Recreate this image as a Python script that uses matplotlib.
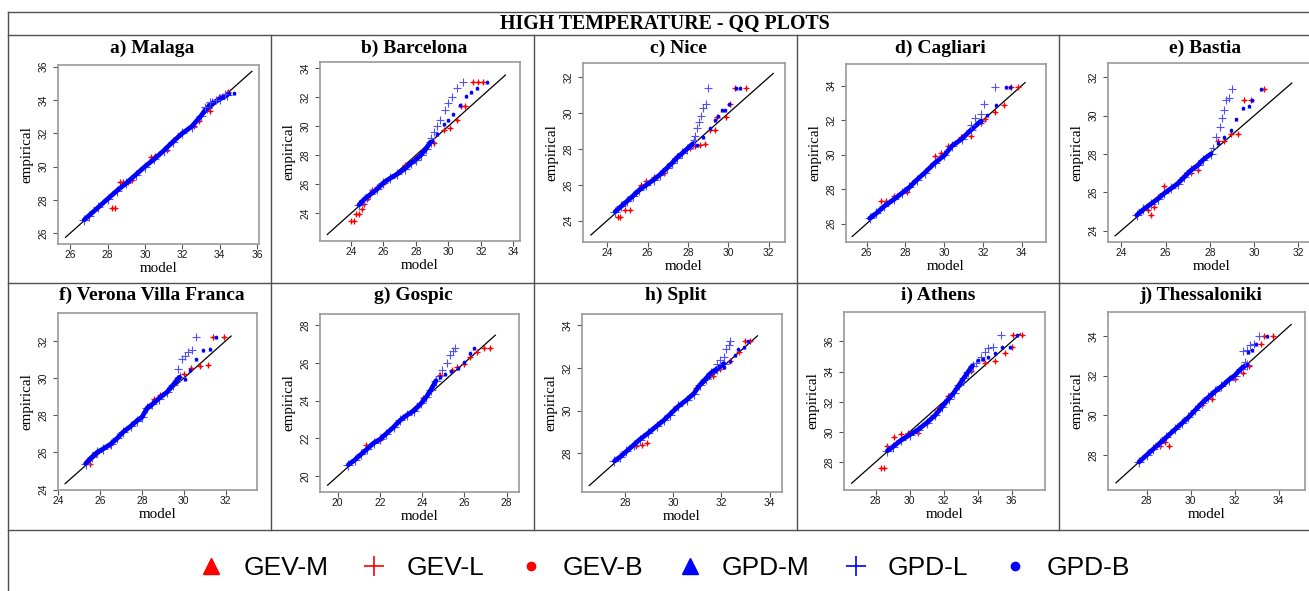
import matplotlib
matplotlib.use("Agg")
import matplotlib.pyplot as plt
from matplotlib.lines import Line2D

# ---------------- data ----------------
TITLE = "HIGH TEMPERATURE - QQ PLOTS"
PANEL_TITLES = ["a) Malaga", "b) Barcelona", "c) Nice", "d) Cagliari", "e) Bastia",
                "f) Verona Villa Franca", "g) Gospic", "h) Split", "i) Athens", "j) Thessaloniki"]
XLABEL = "model"
YLABEL = "empirical"
LEGEND_LABELS = ["GEV-M", "GEV-L", "GEV-B", "GPD-M", "GPD-L", "GPD-B"]

# axis limits, reference-line ranges and ticks per panel
LIM_A = [25.35, 36.1];  LINE_A = [25.75, 35.72]; TICKS_A = [26, 28, 30, 32, 34, 36]
LIM_B = [22.1, 34.4];   LINE_B = [22.55, 33.5];  TICKS_B = [24, 26, 28, 30, 32, 34]
LIM_C = [22.81, 32.8];  LINE_C = [23.2, 32.22];  TICKS_C = [24, 26, 28, 30, 32]
LIM_D = [24.93, 35.25]; LINE_D = [25.25, 34.17]; TICKS_D = [26, 28, 30, 32, 34]
LIM_E = [23.4, 32.75];  LINE_E = [23.72, 31.7];  TICKS_E = [24, 26, 28, 30, 32]
LIM_F = [23.98, 33.5];  LINE_F = [24.32, 32.26]; TICKS_F = [24, 26, 28, 30, 32]
LIM_G = [19.16, 28.58]; LINE_G = [19.52, 27.46]; TICKS_G = [20, 22, 24, 26, 28]
LIM_H = [26.2, 34.52];  LINE_H = [26.5, 33.5];   TICKS_H = [28, 30, 32, 34]
LIM_I = [26.15, 37.95]; LINE_I = [26.6, 36.5];   TICKS_I = [28, 30, 32, 34, 36]
LIM_J = [26.24, 35.2];  LINE_J = [26.6, 34.57];  TICKS_J = [28, 30, 32, 34]

# a) Malaga
BODY_A_X = [26.75, 27.0, 27.5, 28.0, 28.5, 29.0, 29.5, 30.0, 30.5, 31.0, 31.5, 32.0, 32.5, 33.0, 33.3, 33.6, 34.0, 34.4]
BODY_A_Y = [26.8, 27.05, 27.55, 28.05, 28.55, 29.0, 29.5, 30.0, 30.45, 30.95, 31.5, 32.0, 32.4, 33.05, 33.5, 33.8, 34.05, 34.3]
GPDL_A_X = [33.2, 33.5, 33.8, 34.3]
GPDL_A_Y = [33.6, 33.85, 34.0, 34.35]
GPDB_A_X = [34.5, 34.75]
GPDB_A_Y = [34.4, 34.4]
GEV_A_X = [28.25, 28.4, 28.65, 28.85, 29.1, 29.3, 30.35, 30.55, 31.2, 31.5, 32.6, 32.9, 33.5, 33.95, 34.15, 34.45]
GEV_A_Y = [27.5, 27.5, 29.05, 29.05, 29.05, 29.2, 30.6, 30.65, 31.0, 31.45, 32.45, 32.75, 33.35, 34.2, 34.25, 34.45]

# b) Barcelona
BODY_B_X = [24.5, 24.8, 25.2, 25.6, 26.0, 26.4, 26.85, 27.3, 27.7, 28.0, 28.3, 28.6, 28.9]
BODY_B_Y = [24.58, 24.95, 25.3, 25.65, 26.1, 26.4, 26.7, 27.05, 27.45, 27.7, 28.0, 28.4, 28.9]
GPDL_B_X = [28.9, 29.1, 29.3, 29.5, 29.8, 30.0, 30.2, 30.5, 30.9]
GPDL_B_Y = [29.2, 29.6, 30.0, 30.4, 31.1, 31.6, 32.0, 32.6, 33.0]
GPDB_B_X = [29.0, 29.3, 29.7, 30.0, 30.3, 30.7, 31.1, 31.4, 31.75, 32.35]
GPDB_B_Y = [28.95, 29.45, 30.15, 30.4, 30.85, 31.45, 32.05, 32.35, 32.6, 33.0]
GEV_B_X = [24.0, 24.2, 24.3, 24.5, 24.7, 24.8, 25.0, 25.3, 25.6, 26.0, 27.3, 28.0, 29.1, 29.7, 30.1, 30.5, 30.8, 31.0, 31.5, 31.8, 32.1]
GEV_B_Y = [23.47, 23.47, 23.98, 23.98, 24.28, 24.63, 24.97, 25.6, 25.8, 26.0, 27.3, 27.85, 28.8, 29.7, 29.85, 30.4, 31.4, 31.4, 33.0, 33.0, 33.0]

# c) Nice
BODY_C_X = [24.4, 24.7, 25.0, 25.3, 25.6, 25.95, 26.3, 26.6, 26.95, 27.2, 27.45, 27.7, 27.95, 28.25]
BODY_C_Y = [24.5, 24.8, 25.1, 25.4, 25.72, 26.0, 26.28, 26.55, 26.93, 27.2, 27.5, 27.75, 28.0, 28.3]
GPDL_C_X = [28.3, 28.35, 28.45, 28.55, 28.65, 28.75, 28.9, 29.0]
GPDL_C_Y = [28.5, 28.75, 29.2, 29.5, 29.85, 30.3, 30.5, 31.4]
GPDB_C_X = [28.45, 28.75, 29.1, 29.35, 29.5, 29.7, 29.85, 30.05, 30.4, 30.55]
GPDB_C_Y = [28.25, 28.65, 29.15, 29.6, 29.85, 30.2, 30.2, 30.5, 31.4, 31.4]
GEV_C_X = [24.55, 24.65, 24.9, 25.15, 25.7, 25.95, 26.3, 26.8, 27.45, 28.1, 28.35, 28.6, 28.85, 29.1, 29.35, 29.45, 29.9, 30.1, 30.35, 30.85]
GEV_C_Y = [24.2, 24.2, 24.6, 24.6, 26.0, 26.2, 26.45, 26.65, 27.6, 28.05, 28.15, 28.25, 28.3, 29.05, 29.05, 29.8, 29.8, 30.5, 31.4, 31.4]

# d) Cagliari
BODY_D_X = [26.15, 26.5, 26.9, 27.4, 27.8, 28.2, 28.6, 29.0, 29.5, 30.0, 30.4, 30.9, 31.4, 31.9]
BODY_D_Y = [26.3, 26.6, 27.0, 27.4, 27.75, 28.1, 28.55, 28.95, 29.5, 29.95, 30.5, 30.9, 31.45, 31.95]
GPDL_D_X = [31.4, 31.6, 31.9, 32.05, 32.6]
GPDL_D_Y = [31.7, 32.1, 32.35, 32.95, 33.9]
GPDB_D_X = [31.9, 32.2, 32.65, 33.2, 33.4]
GPDB_D_Y = [31.95, 32.3, 32.85, 33.9, 33.9]
GEV_D_X = [26.75, 27.0, 27.4, 28.1, 28.35, 29.5, 29.85, 30.2, 30.85, 31.4, 31.9, 32.1, 32.6, 33.1, 33.45, 33.8]
GEV_D_Y = [27.3, 27.3, 27.6, 27.8, 28.35, 29.9, 30.1, 30.5, 31.0, 31.1, 31.85, 32.05, 32.45, 32.85, 33.9, 33.9]

# e) Bastia
BODY_E_X = [24.7, 25.0, 25.35, 25.65, 25.95, 26.25, 26.55, 26.85, 27.15, 27.45, 27.7, 28.05]
BODY_E_Y = [24.8, 25.1, 25.4, 25.65, 25.95, 26.2, 26.45, 26.8, 27.15, 27.4, 27.7, 28.0]
GPDL_E_X = [28.15, 28.3, 28.45, 28.55, 28.65, 28.75, 28.85, 29.0]
GPDL_E_Y = [28.3, 28.9, 29.4, 29.9, 30.3, 30.8, 30.9, 31.4]
GPDB_E_X = [28.35, 28.65, 28.95, 29.2, 29.5, 29.75, 29.9, 30.3]
GPDB_E_Y = [28.55, 28.9, 29.25, 29.85, 30.4, 30.5, 30.8, 31.4]
GEV_E_X = [25.2, 25.35, 25.5, 25.65, 25.95, 26.55, 26.9, 27.15, 27.45, 28.35, 28.65, 28.95, 29.25, 29.55, 29.85, 30.45]
GEV_E_Y = [25.05, 24.8, 25.25, 25.75, 26.3, 26.55, 26.9, 27.0, 27.15, 28.7, 28.65, 29.05, 29.05, 30.8, 30.8, 31.4]

# f) Verona Villa Franca
BODY_F_X = [25.3, 25.6, 25.85, 26.15, 26.5, 26.8, 27.1, 27.45, 27.75, 28.0, 28.25, 28.5, 28.8, 29.2, 29.5, 29.8]
BODY_F_Y = [25.4, 25.75, 26.0, 26.2, 26.45, 26.75, 27.1, 27.4, 27.7, 27.9, 28.4, 28.6, 28.9, 29.25, 29.65, 30.05]
GPDL_F_X = [29.7, 29.9, 30.05, 30.2, 30.4, 30.6]
GPDL_F_Y = [30.5, 31.0, 31.2, 31.4, 31.5, 32.2]
GPDB_F_X = [30.05, 30.3, 30.6, 30.9, 31.25, 31.55]
GPDB_F_Y = [29.95, 30.45, 31.0, 31.5, 31.55, 32.2]
GEV_F_X = [25.5, 25.8, 26.45, 27.75, 28.55, 28.85, 29.65, 30.0, 30.35, 30.75, 31.15, 31.4, 31.9]
GEV_F_Y = [25.4, 25.95, 26.4, 27.75, 28.85, 29.1, 30.0, 30.2, 30.55, 30.65, 30.7, 32.2, 32.2]

# g) Gospic
BODY_G_X = [20.5, 20.8, 21.1, 21.4, 21.7, 22.0, 22.3, 22.65, 22.95, 23.3, 23.6, 23.95, 24.2, 24.4, 24.65]
BODY_G_Y = [20.6, 20.85, 21.15, 21.45, 21.75, 21.95, 22.25, 22.6, 22.95, 23.25, 23.45, 23.85, 24.2, 24.55, 25.05]
GPDL_G_X = [24.8, 24.95, 25.15, 25.3, 25.45, 25.55]
GPDL_G_Y = [25.3, 25.6, 26.0, 26.4, 26.6, 26.8]
GPDB_G_X = [24.85, 25.1, 25.35, 25.7, 26.0, 26.25, 26.45]
GPDB_G_Y = [25.25, 25.4, 25.55, 25.7, 26.05, 26.5, 26.8]
GEV_G_X = [21.35, 22.0, 23.1, 24.05, 24.85, 25.4, 25.65, 26.0, 26.25, 26.6, 26.9, 27.2]
GEV_G_Y = [21.65, 21.9, 23.15, 24.15, 25.35, 25.6, 25.8, 25.95, 26.3, 26.55, 26.8, 26.8]

# h) Split
BODY_H_X = [27.55, 27.8, 28.05, 28.35, 28.6, 28.95, 29.3, 29.6, 29.85, 30.2, 30.55, 30.85, 31.1, 31.35, 31.55, 31.8, 32.1]
BODY_H_Y = [27.65, 27.85, 28.1, 28.4, 28.65, 28.95, 29.28, 29.55, 29.82, 30.2, 30.5, 30.8, 31.2, 31.5, 31.75, 31.95, 32.2]
GPDL_H_X = [31.8, 31.95, 32.1, 32.2, 32.3, 32.35]
GPDL_H_Y = [32.2, 32.35, 32.5, 32.9, 33.05, 33.25]
GPDB_H_X = [32.1, 32.35, 32.55, 32.7, 32.95, 33.1]
GPDB_H_Y = [32.05, 32.3, 32.6, 32.9, 33.0, 33.25]
GEV_H_X = [28.45, 28.7, 28.9, 30.0, 30.95, 31.65, 31.95, 32.35, 32.75, 33.0, 33.2]
GEV_H_Y = [28.35, 28.4, 28.5, 30.05, 31.05, 31.6, 31.95, 32.3, 32.75, 33.25, 33.25]

# i) Athens
BODY_I_X = [28.7, 29.0, 29.5, 30.0, 30.5, 31.0, 31.5, 31.9, 32.3, 32.6, 32.9, 33.2, 33.45, 33.7]
BODY_I_Y = [28.75, 29.0, 29.45, 29.8, 30.15, 30.6, 31.1, 31.65, 32.2, 32.6, 33.1, 33.6, 34.0, 34.4]
GPDL_I_X = [33.9, 34.2, 34.4, 34.6, 34.9, 35.35]
GPDL_I_Y = [34.6, 35.0, 35.3, 35.55, 35.6, 36.4]
GPDB_I_X = [34.0, 34.3, 34.6, 35.0, 35.4, 35.9, 36.3]
GPDB_I_Y = [34.8, 34.85, 34.95, 35.25, 35.6, 35.6, 36.4]
GEV_I_X = [28.3, 28.5, 28.7, 29.1, 29.5, 29.9, 30.5, 31.05, 31.65, 32.25, 33.6, 34.4, 35.0, 35.6, 36.0, 36.1, 36.6]
GEV_I_Y = [27.6, 27.6, 29.1, 29.65, 29.85, 29.95, 29.95, 30.6, 31.6, 32.4, 34.05, 34.6, 34.7, 35.25, 35.6, 36.4, 36.4]

# j) Thessaloniki
BODY_J_X = [27.65, 28.0, 28.3, 28.6, 28.9, 29.3, 29.6, 29.9, 30.2, 30.5, 30.8, 31.1, 31.4, 31.75, 32.0, 32.3, 32.55]
BODY_J_Y = [27.65, 28.0, 28.3, 28.6, 28.9, 29.3, 29.6, 29.9, 30.25, 30.6, 30.9, 31.2, 31.45, 31.8, 32.0, 32.35, 32.55]
GPDL_J_X = [32.45, 32.4, 32.55, 32.7, 32.9, 33.1]
GPDL_J_Y = [32.7, 33.25, 33.3, 33.55, 33.6, 34.0]
GPDB_J_X = [32.6, 32.8, 32.95, 33.45]
GPDB_J_Y = [33.2, 33.3, 33.6, 34.0]
GEV_J_X = [28.6, 28.85, 29.0, 30.5, 30.95, 32.0, 32.4, 32.65, 33.2, 33.35, 33.75]
GEV_J_Y = [28.45, 28.65, 28.45, 30.5, 30.8, 31.85, 32.15, 32.5, 33.6, 34.0, 34.0]

PANELS = [
    (LIM_A, LINE_A, TICKS_A, BODY_A_X, BODY_A_Y, GPDL_A_X, GPDL_A_Y, GPDB_A_X, GPDB_A_Y, GEV_A_X, GEV_A_Y),
    (LIM_B, LINE_B, TICKS_B, BODY_B_X, BODY_B_Y, GPDL_B_X, GPDL_B_Y, GPDB_B_X, GPDB_B_Y, GEV_B_X, GEV_B_Y),
    (LIM_C, LINE_C, TICKS_C, BODY_C_X, BODY_C_Y, GPDL_C_X, GPDL_C_Y, GPDB_C_X, GPDB_C_Y, GEV_C_X, GEV_C_Y),
    (LIM_D, LINE_D, TICKS_D, BODY_D_X, BODY_D_Y, GPDL_D_X, GPDL_D_Y, GPDB_D_X, GPDB_D_Y, GEV_D_X, GEV_D_Y),
    (LIM_E, LINE_E, TICKS_E, BODY_E_X, BODY_E_Y, GPDL_E_X, GPDL_E_Y, GPDB_E_X, GPDB_E_Y, GEV_E_X, GEV_E_Y),
    (LIM_F, LINE_F, TICKS_F, BODY_F_X, BODY_F_Y, GPDL_F_X, GPDL_F_Y, GPDB_F_X, GPDB_F_Y, GEV_F_X, GEV_F_Y),
    (LIM_G, LINE_G, TICKS_G, BODY_G_X, BODY_G_Y, GPDL_G_X, GPDL_G_Y, GPDB_G_X, GPDB_G_Y, GEV_G_X, GEV_G_Y),
    (LIM_H, LINE_H, TICKS_H, BODY_H_X, BODY_H_Y, GPDL_H_X, GPDL_H_Y, GPDB_H_X, GPDB_H_Y, GEV_H_X, GEV_H_Y),
    (LIM_I, LINE_I, TICKS_I, BODY_I_X, BODY_I_Y, GPDL_I_X, GPDL_I_Y, GPDB_I_X, GPDB_I_Y, GEV_I_X, GEV_I_Y),
    (LIM_J, LINE_J, TICKS_J, BODY_J_X, BODY_J_Y, GPDL_J_X, GPDL_J_Y, GPDB_J_X, GPDB_J_Y, GEV_J_X, GEV_J_Y),
]

# ---------------- layout ----------------
W, H = 1309, 591
BOXES = [(58, 65, 259, 244), (320, 62, 520, 241), (583, 63, 785, 242), (846, 64, 1046, 242), (1108, 63, 1315, 242),
         (58, 313, 257, 490), (320, 314, 519, 492), (582, 314, 782, 492), (844, 312, 1045, 490), (1108, 312, 1305, 490)]
TITLE_Y = [48, 48, 48, 48, 48, 295, 295, 295, 295, 295]

SERIF = ["Liberation Serif", "DejaVu Serif"]
SANS = ["Liberation Sans", "DejaVu Sans"]
RED = "#ff0000"
BLUE = "#0000ff"
LBLUE = "#5050ff"
FRAME = "#505050"

fig = plt.figure(figsize=(W / 100, H / 100), dpi=100)


def fx(px):
    return px / W


def fy(py):
    return 1 - py / H


def hline(y, x0, x1):
    fig.add_artist(Line2D([fx(x0), fx(x1)], [fy(y), fy(y)], color=FRAME, lw=1.0))


def vline(x, y0, y1):
    fig.add_artist(Line2D([fx(x), fx(x)], [fy(y0), fy(y1)], color=FRAME, lw=1.0))


hline(11.5, 8, 1330)
hline(35, 8, 1330)
hline(282.5, 8, 1330)
hline(529.5, 8, 1330)
vline(8, 11.5, 600)
for cx in [271, 533.5, 796.5, 1058.5]:
    vline(cx, 35, 529.5)

fig.text(fx(665), fy(23.5), TITLE, ha="center", va="center", fontsize=14.3,
         fontweight="bold", family=SERIF)

for k, (box, panel) in enumerate(zip(BOXES, PANELS)):
    lim, line, ticks, bx, by, lx, ly, gx, gy, rx, ry = panel
    l, t, r, b = box
    ax = fig.add_axes([fx(l), fy(b), fx(r) - fx(l), fy(t) - fy(b)])
    ax.set_xlim(lim)
    ax.set_ylim(lim)
    ax.set_xticks(ticks)
    ax.set_yticks(ticks)
    for s in ax.spines.values():
        s.set_color("#9a9a9a")
        s.set_linewidth(1.2)
    ax.tick_params(direction="out", length=3.5, width=0.8, color="#555555",
                   labelsize=7.4, labelcolor="#1a1a1a")
    ax.tick_params(axis="x", pad=1.0)
    ax.tick_params(axis="y", pad=3.2, labelrotation=90)
    for lab in ax.get_xticklabels() + ax.get_yticklabels():
        lab.set_family(SANS)
    for lab in ax.get_yticklabels():
        lab.set_va("center")

    # reference line
    ax.plot(line, line, color="black", lw=0.9, zorder=2)
    # GEV (red)
    ax.plot(rx, ry, ls="none", marker="+", ms=4.5, mew=0.9, color=RED, zorder=3)
    ax.plot(rx, ry, ls="none", marker="o", ms=2.0, mew=0, color=RED, zorder=3)
    # GPD main body (blue)
    ax.plot(bx, by, ls="none", marker="+", ms=6.5, mew=0.8, color=LBLUE, zorder=3.5)
    ax.plot(bx, by, color=BLUE, lw=3.4, solid_capstyle="round", solid_joinstyle="round", zorder=4)
    # GPD-L tail
    ax.plot(lx, ly, ls="none", marker="+", ms=5.5, mew=0.8, color=LBLUE, zorder=4)
    # GPD-B / GPD-M tail
    ax.plot(gx, gy, ls="none", marker="o", ms=2.6, mew=0, color=BLUE, zorder=4.5)
    ax.plot(gx, gy, ls="none", marker="^", ms=2.8, mew=0, color=BLUE, zorder=4.5)

    ax.text(0.5, -24 / (b - t), XLABEL, transform=ax.transAxes, ha="center", va="center",
            fontsize=10.8, family=SERIF)
    ax.text(-31 / (r - l), 0.5, YLABEL, transform=ax.transAxes, ha="center", va="center",
            rotation=90, fontsize=10.8, family=SERIF)

    fig.text(fx((l + r) / 2 - 6), fy(TITLE_Y[k]), PANEL_TITLES[k], ha="center", va="center",
             fontsize=14, fontweight="bold", family=SERIF)

# legend
handles = [
    Line2D([], [], ls="none", marker="^", ms=11, color=RED),
    Line2D([], [], ls="none", marker="+", ms=14, mew=1.2, color=RED),
    Line2D([], [], ls="none", marker="o", ms=6, color=RED),
    Line2D([], [], ls="none", marker="^", ms=11, color=BLUE),
    Line2D([], [], ls="none", marker="+", ms=14, mew=1.2, color=BLUE),
    Line2D([], [], ls="none", marker="o", ms=6, color=BLUE),
]
fig.legend(handles, LEGEND_LABELS, loc="center", bbox_to_anchor=(fx(664), fy(568)), ncol=6,
           frameon=False, prop={"family": SANS, "size": 19}, handlelength=1.0,
           handletextpad=0.72, columnspacing=1.25, borderaxespad=0, borderpad=0)

fig.savefig("out.png", dpi=100)
